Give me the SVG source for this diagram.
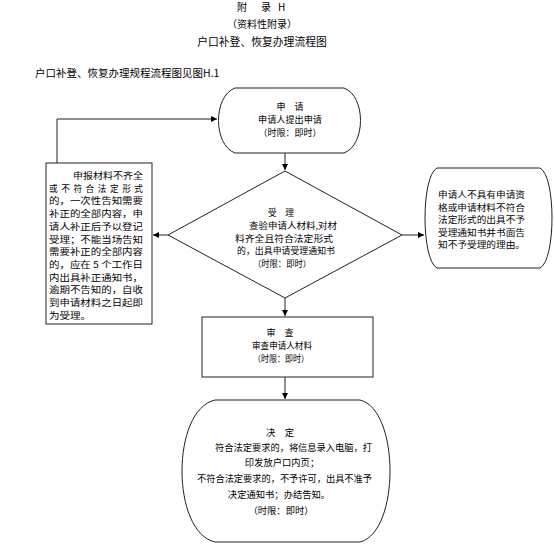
<svg xmlns="http://www.w3.org/2000/svg" width="554" height="556" viewBox="0 0 554 556">
<style>
text{font-family:"Noto Sans CJK SC","Noto Sans CJK JP",sans-serif;fill:#000;}
.s{fill:#fff;stroke:#222;stroke-width:1;}
.c{fill:none;stroke:#222;stroke-width:1;}
.t10{font-size:10px;}
.t9{font-size:9px;}
.tf{font-size:8.7px;}
.tr{font-size:8.6px;}
.td{font-size:9.3px;}
.m{text-anchor:middle;}
</style>
<defs>
<marker id="arr" viewBox="0 0 8 8" refX="8" refY="4" markerWidth="6" markerHeight="6" orient="auto" markerUnits="userSpaceOnUse">
<path d="M0,0 L8,4 L0,8 z" fill="#000"/>
</marker>
</defs>
<rect width="554" height="556" fill="#fff"/>
<g id="header">
<text class="t10" x="237" y="11">附</text>
<text class="t10" x="261" y="11">录</text>
<text class="t10" x="278" y="11">H</text>
<text class="t10 m" x="262" y="28">（资料性附录）</text>
<text class="m" x="262" y="46" style="font-size:10.8px">户口补登、恢复办理流程图</text>
<text x="35" y="77" style="font-size:10.5px">户口补登、恢复办理规程流程图见图H.1</text>
</g>
<g id="connectors">
<path class="c" d="M285,153 V170" marker-end="url(#arr)"/>
<path class="c" d="M285,298 V316" marker-end="url(#arr)"/>
<path class="c" d="M285,377 V399" marker-end="url(#arr)"/>
<path class="c" d="M168,235 H153" marker-end="url(#arr)"/>
<path class="c" d="M402,235 H424" marker-end="url(#arr)"/>
<path class="c" d="M57,163 V119 H217" marker-end="url(#arr)"/>
</g>
<g id="start">
<path class="s" d="M235,88 H344 C366,96 366,145 344,153 H235 C213,145 213,96 235,88 Z"/>
<text class="t9 m" x="290" y="110">申　请</text>
<text class="t9 m" x="290" y="123" textLength="64" lengthAdjust="spacingAndGlyphs">申请人提出申请</text>
<text class="t9 m" x="290" y="136">（时限：即时）</text>
</g>
<g id="accept">
<path class="s" d="M285,171 L402,235 L285,298 L168,235 Z"/>
<text class="tf m" x="281" y="216">受　理</text>
<text class="tf" x="249" y="228.8" textLength="88" lengthAdjust="spacingAndGlyphs">查验申请人材料,对材</text>
<text class="tf" x="235" y="241.6" textLength="98" lengthAdjust="spacingAndGlyphs">料齐全且符合法定形式</text>
<text class="tf" x="237" y="254.4" textLength="98" lengthAdjust="spacingAndGlyphs">的，出具申请受理通知书</text>
<text class="tf m" x="282" y="267.2" textLength="58" lengthAdjust="spacingAndGlyphs">（时限：即时）</text>
</g>
<g id="supplement">
<rect class="s" x="46" y="163" width="106" height="161"/>
<text class="tf" x="73" y="179" textLength="70" lengthAdjust="spacingAndGlyphs">申报材料不齐全</text>
<text class="tf" x="49" y="191.7" textLength="94" lengthAdjust="spacing">或不符合法定形式</text>
<text class="tf" x="49" y="204.4" textLength="94" lengthAdjust="spacingAndGlyphs">的，一次性告知需要</text>
<text class="tf" x="49" y="217.1" textLength="94" lengthAdjust="spacingAndGlyphs">补正的全部内容，申</text>
<text class="tf" x="49" y="229.8" textLength="94" lengthAdjust="spacingAndGlyphs">请人补正后予以登记</text>
<text class="tf" x="49" y="242.5" textLength="94" lengthAdjust="spacingAndGlyphs">受理；不能当场告知</text>
<text class="tf" x="49" y="255.2" textLength="94" lengthAdjust="spacingAndGlyphs">需要补正的全部内容</text>
<text class="tf" x="49" y="267.9" textLength="94" lengthAdjust="spacingAndGlyphs">的，应在 5 个工作日</text>
<text class="tf" x="49" y="280.6" textLength="94" lengthAdjust="spacingAndGlyphs">内出具补正通知书，</text>
<text class="tf" x="49" y="293.3" textLength="94" lengthAdjust="spacingAndGlyphs">逾期不告知的，自收</text>
<text class="tf" x="49" y="306" textLength="94" lengthAdjust="spacingAndGlyphs">到申请材料之日起即</text>
<text class="tf" x="49" y="318.7" textLength="42" lengthAdjust="spacingAndGlyphs">为受理。</text>
</g>
<g id="reject">
<path class="s" d="M437,168 H540 C556,176 556,260 540,268 H437 C421,260 421,176 437,168 Z"/>
<text class="tr" x="438" y="198" textLength="87" lengthAdjust="spacingAndGlyphs">申请人不具有申请资</text>
<text class="tr" x="438" y="210.5" textLength="87" lengthAdjust="spacingAndGlyphs">格或申请材料不符合</text>
<text class="tr" x="438" y="223" textLength="87" lengthAdjust="spacingAndGlyphs">法定形式的出具不予</text>
<text class="tr" x="438" y="235.5" textLength="87" lengthAdjust="spacingAndGlyphs">受理通知书并书面告</text>
<text class="tr" x="438" y="248" textLength="87" lengthAdjust="spacingAndGlyphs">知不予受理的理由。</text>
</g>
<g id="review">
<rect class="s" x="202" y="317" width="171" height="60"/>
<text class="t9 m" x="280" y="336">审　查</text>
<text class="t9 m" x="282" y="349" textLength="60" lengthAdjust="spacingAndGlyphs">审查申请人材料</text>
<text class="t9 m" x="281" y="362" textLength="56" lengthAdjust="spacingAndGlyphs">（时限：即时）</text>
</g>
<g id="decide">
<path class="s" d="M215,400 H360 C400,410 400,532 360,542 H215 C171,532 171,410 215,400 Z"/>
<text class="td m" x="280" y="436">决　定</text>
<text class="td" x="215" y="451" textLength="157" lengthAdjust="spacingAndGlyphs">符合法定要求的，将信息录入电脑，打</text>
<text class="td m" x="282" y="466">印发放户口内页；</text>
<text class="td" x="197" y="482" textLength="175" lengthAdjust="spacingAndGlyphs">不符合法定要求的，不予许可，出具不准予</text>
<text class="td m" x="279" y="498">决定通知书；办结告知。</text>
<text class="td m" x="281" y="514">（时限：即时）</text>
</g>
</svg>
